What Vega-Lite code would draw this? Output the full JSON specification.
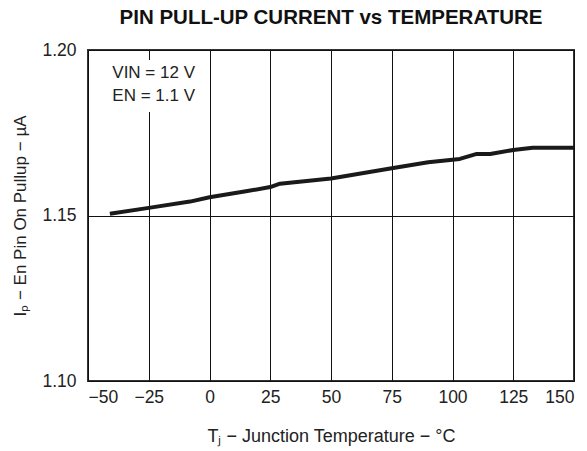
{
  "$schema": "https://vega.github.io/schema/vega-lite/v6.json",
  "autosize": "none",
  "width": 486,
  "height": 331,
  "padding": {"left": 88, "top": 50, "right": 13, "bottom": 70},
  "background": "white",
  "config": {
    "font": "Liberation Sans",
    "view": {"stroke": "#333333", "strokeWidth": 2},
    "axis": {"labelFont": "Liberation Sans", "titleFont": "Liberation Sans", "labelColor": "#222222", "titleColor": "#222222"}
  },
  "title": {
    "text": "PIN PULL-UP CURRENT vs TEMPERATURE",
    "font": "Liberation Sans",
    "fontSize": 20.5,
    "fontWeight": "bold",
    "color": "#111111",
    "anchor": "middle",
    "offset": 13
  },
  "layer": [
    {
      "data": {
        "values": [
          {"T": -41, "I": 1.1505},
          {"T": -25, "I": 1.1523},
          {"T": -8, "I": 1.1542},
          {"T": 0, "I": 1.1555},
          {"T": 15, "I": 1.1573},
          {"T": 25, "I": 1.1586},
          {"T": 29, "I": 1.1596},
          {"T": 50, "I": 1.1612},
          {"T": 75, "I": 1.1643},
          {"T": 90, "I": 1.1661},
          {"T": 103, "I": 1.1671},
          {"T": 110, "I": 1.1686},
          {"T": 115.5, "I": 1.1686},
          {"T": 125, "I": 1.1698},
          {"T": 133, "I": 1.1705},
          {"T": 150, "I": 1.1705}
        ]
      },
      "mark": {"type": "line", "color": "#1a1a1a", "strokeWidth": 4, "strokeJoin": "round"},
      "encoding": {
        "x": {
          "field": "T", "type": "quantitative",
          "scale": {"domain": [-50, 150], "nice": false, "zero": false},
          "axis": {
            "values": [-50, -25, 0, 25, 50, 75, 100, 125, 150],
            "grid": true, "gridColor": "#111111", "gridOpacity": 1, "gridWidth": 1,
            "ticks": false, "domain": false,
            "labelFontSize": 17.5, "labelPadding": 7,
            "title": "Tⱼ − Junction Temperature −  °C",
            "titleFontSize": 18, "titleFontWeight": "normal", "titlePadding": 22
          }
        },
        "y": {
          "field": "I", "type": "quantitative",
          "scale": {"domain": [1.10, 1.20], "nice": false, "zero": false},
          "axis": {
            "values": [1.10, 1.15, 1.20], "format": ".2f",
            "grid": true, "gridColor": "#111111", "gridOpacity": 1, "gridWidth": 1,
            "ticks": false, "domain": false,
            "labelFontSize": 17.5, "labelPadding": 12,
            "title": "Iₚ − En Pin On Pullup − µA",
            "titleFontSize": 17, "titleFontWeight": "normal", "titlePadding": 12
          }
        }
      }
    },
    {
      "data": {"values": [{"note": "conditions"}]},
      "mark": {"type": "rect", "color": "white"},
      "encoding": {
        "x": {"datum": -41},
        "x2": {"datum": -8},
        "y": {"datum": 1.197},
        "y2": {"datum": 1.1813}
      }
    },
    {
      "data": {"values": [{"note": "conditions"}]},
      "mark": {"type": "text", "align": "left", "baseline": "middle", "fontSize": 17, "fontWeight": "normal", "color": "#222222", "font": "Liberation Sans", "lineHeight": 23, "text": ["VIN = 12 V", "EN = 1.1 V"]},
      "encoding": {
        "x": {"datum": -40},
        "y": {"datum": 1.1931}
      }
    }
  ]
}
